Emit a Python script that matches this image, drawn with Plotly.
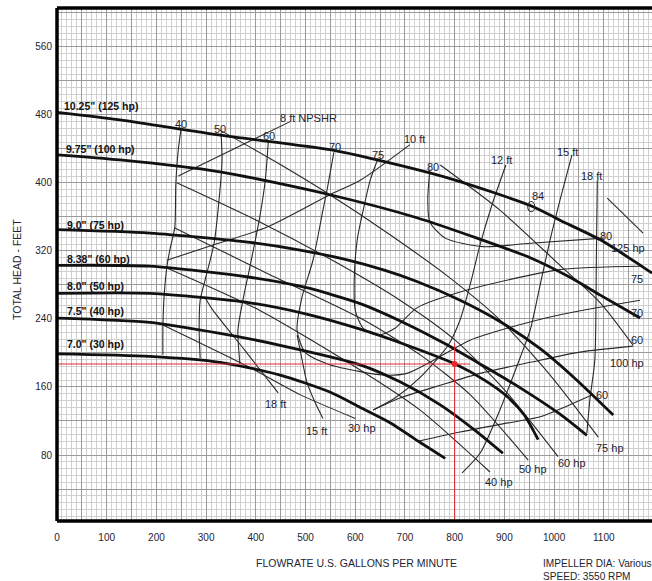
import plotly.graph_objects as go

# ---------------- data (flow in US gpm, head in feet) ----------------
X_TICKS = [0, 100, 200, 300, 400, 500, 600, 700, 800, 900, 1000, 1100]
Y_TICKS = [80, 160, 240, 320, 400, 480, 560]

# impeller curves
imp_1025_q = [0, 127, 328, 549, 644, 791, 958, 1012, 1093, 1179, 1197]
imp_1025_h = [483, 474, 456, 439, 427, 405, 372, 356, 333, 301, 294]
imp_975_q = [0, 127, 328, 549, 724, 845, 952, 1032, 1093, 1173]
imp_975_h = [433, 427, 413, 386, 359, 335, 312, 289, 268, 241]
imp_90_q = [0, 187, 388, 489, 580, 660, 724, 811, 891, 972, 1042, 1119]
imp_90_h = [345, 341, 330, 321, 310, 297, 284, 262, 237, 205, 170, 127]
imp_838_q = [0, 187, 388, 500, 610, 700, 780, 860, 932, 1012, 1066]
imp_838_h = [303, 302, 289, 277, 258, 235, 211, 184, 159, 128, 103]
imp_80_q = [0, 187, 388, 500, 610, 700, 801, 860, 905, 940, 968]
imp_80_h = [270, 270, 259, 246, 228, 210, 187, 168, 149, 127, 98]
imp_75_q = [0, 187, 328, 449, 610, 690, 771, 841, 897]
imp_75_h = [241, 236, 223, 209, 186, 166, 139, 109, 82]
imp_70_q = [0, 187, 328, 449, 549, 610, 670, 730, 781]
imp_70_h = [199, 196, 189, 174, 154, 136, 118, 95, 76]
imp_labels = ['10.25" (125 hp)', '9.75" (100 hp)', '9.0" (75 hp)', '8.38" (60 hp)',
              '8.0" (50 hp)', '7.5" (40 hp)', '7.0" (30 hp)']
imp_label_q = [10, 14, 16, 16, 16, 16, 16]
imp_label_h = [490, 440, 350, 310, 279, 249, 211]

# efficiency contours (%)
eff40_q = [250, 244, 239, 237, 227, 221, 215, 213, 213]
eff40_h = [465, 439, 398, 348, 321, 301, 262, 227, 198]
eff50_q = [330, 332, 326, 316, 298, 288, 286, 288]
eff50_h = [459, 427, 380, 329, 286, 262, 227, 194]
eff60_q = [425, 419, 408, 388, 374, 364, 368]
eff60_h = [448, 403, 360, 301, 262, 227, 187]
eff70_q = [557, 545, 535, 515, 493, 483, 499, 549, 610, 656, 704, 750, 831, 905, 1012, 1173]
eff70_h = [436, 397, 368, 309, 266, 227, 201, 186, 178, 174, 176, 189, 215, 229, 245, 262]
eff75_q = [646, 630, 616, 604, 598, 600, 616, 646, 680, 724, 825, 1012, 1173]
eff75_h = [429, 403, 368, 333, 286, 250, 229, 221, 229, 253, 274, 298, 302]
eff80_q = [750, 746, 750, 781, 857, 952, 1099]
eff80_h = [415, 380, 354, 335, 325, 329, 335]
eff60a_q = [636, 690, 771, 851, 952, 1052, 1159]
eff60a_h = [133, 147, 162, 176, 189, 201, 208]
eff60b_q = [726, 811, 891, 972, 1032, 1078]
eff60b_h = [96, 107, 116, 125, 139, 151]
eff84_center = (954, 372)

# NPSHR lines (ft)
npsh8_q = [244, 469]
npsh8_h = [408, 472]
npsh10_q = [221, 314, 423, 549, 610, 710]
npsh10_h = [309, 327, 348, 386, 403, 445]
npsh12_q = [903, 875, 851, 831, 811, 787, 730, 680, 636]
npsh12_h = [421, 374, 327, 280, 239, 209, 171, 147, 133]
npsh15_q = [1036, 1012, 992, 972, 952, 932, 891, 851, 815]
npsh15_h = [433, 380, 333, 280, 227, 195, 133, 82, 59]
npsh18_q = [1087, 1085, 1082, 1072, 1066]
npsh18_h = [403, 309, 192, 145, 106]
npsh15low_q = [483, 493, 503, 519, 535]
npsh15low_h = [221, 192, 165, 142, 123]
npsh18low_q = [298, 314, 378, 445]
npsh18low_h = [265, 250, 203, 153]

# horsepower lines
hp30_q = [213, 388, 489, 600]
hp30_h = [233, 183, 151, 123]
hp40_q = [221, 408, 610, 730, 871]
hp40_h = [300, 250, 180, 133, 60]
hp50_q = [237, 418, 610, 730, 831, 948]
hp50_h = [347, 295, 241, 198, 151, 74]
hp60_q = [241, 408, 563, 690, 801, 901, 1008]
hp60_h = [400, 354, 306, 262, 215, 156, 78]
hp75_q = [328, 439, 549, 670, 791, 891, 992, 1089]
hp75_h = [462, 425, 386, 339, 288, 239, 174, 101]
hp100_q = [771, 891, 1012, 1093, 1159]
hp100_h = [421, 368, 303, 259, 209]
hp125_q = [1107, 1179]
hp125_h = [382, 341]

# text labels on the chart
note_text = ["40", "50", "60", "70", "75", "80", "84",
             "80", "125 hp", "75", "70", "60", "100 hp", "60",
             "75 hp", "60 hp", "50 hp", "40 hp", "30 hp", "15 ft", "18 ft",
             "8 ft NPSHR", "10 ft", "12 ft", "15 ft", "18 ft"]
note_q = [249, 328, 427, 559, 646, 756, 968,
          1105, 1149, 1167, 1167, 1167, 1147, 1097,
          1113, 1036, 958, 889, 614, 523, 439,
          505, 720, 895, 1028, 1076]
note_h = [469, 463, 455, 442, 433, 419, 385,
          338, 323, 287, 247, 215, 188, 151,
          88, 71, 64, 48, 112, 108, 140,
          476, 452, 427, 436, 408]

# operating point
op_q = 800
op_h = 187
op_hline_q = [0, 831]
op_vline_h = [0, 212]

# ---------------- figure ----------------
FONT = "Liberation Sans Narrow, Arial Narrow, Liberation Sans, Arial, sans-serif"
TXT = "#1d2433"
fig = go.Figure()

def add_line(q, h, width, color="#1a1a1a", shape="spline"):
    fig.add_trace(go.Scatter(x=q, y=h, mode="lines", hoverinfo="skip",
                             line=dict(color=color, width=width, shape=shape, smoothing=0.7)))

for q, h in [(eff40_q, eff40_h), (eff50_q, eff50_h), (eff60_q, eff60_h), (eff70_q, eff70_h),
             (eff75_q, eff75_h), (eff80_q, eff80_h), (eff60a_q, eff60a_h), (eff60b_q, eff60b_h),
             (npsh8_q, npsh8_h), (npsh10_q, npsh10_h), (npsh12_q, npsh12_h), (npsh15_q, npsh15_h),
             (npsh18_q, npsh18_h), (npsh15low_q, npsh15low_h), (npsh18low_q, npsh18low_h),
             (hp30_q, hp30_h), (hp40_q, hp40_h), (hp50_q, hp50_h), (hp60_q, hp60_h),
             (hp75_q, hp75_h), (hp100_q, hp100_h), (hp125_q, hp125_h)]:
    add_line(q, h, 1.1, "#2a2a2a")

for q, h in [(imp_1025_q, imp_1025_h), (imp_975_q, imp_975_h), (imp_90_q, imp_90_h),
             (imp_838_q, imp_838_h), (imp_80_q, imp_80_h), (imp_75_q, imp_75_h), (imp_70_q, imp_70_h)]:
    add_line(q, h, 2.8, "#111111")

# operating point (red)
fig.add_trace(go.Scatter(x=op_hline_q, y=[op_h, op_h], mode="lines", hoverinfo="skip",
                         line=dict(color="#e8262e", width=1)))
fig.add_trace(go.Scatter(x=[op_q, op_q], y=op_vline_h, mode="lines", hoverinfo="skip",
                         line=dict(color="#e8262e", width=1)))
fig.add_trace(go.Scatter(x=[op_q], y=[op_h], mode="markers", hoverinfo="skip",
                         marker=dict(color="#e8262e", size=6)))

# plot area in page pixels: x 57..652, y 8..521
PL, PT, PW, PH = 57, 8, 595, 513

def px_x(x):
    return (x - PL) / PW

def px_y(y):
    return (PT + PH - y) / PH

annotations = []
for t, q, h in zip(imp_labels, imp_label_q, imp_label_h):
    annotations.append(dict(x=q, y=h, xref="x", yref="y", text="<b>%s</b>" % t, showarrow=False,
                            xanchor="left", yanchor="middle",
                            font=dict(family=FONT, size=10.5, color="#111")))
for t, q, h in zip(note_text, note_q, note_h):
    annotations.append(dict(x=q, y=h, xref="x", yref="y", text=t, showarrow=False,
                            xanchor="center", yanchor="middle",
                            font=dict(family=FONT, size=11, color=TXT)))
annotations += [
    dict(x=px_x(17), y=px_y(270), xref="paper", yref="paper", text="TOTAL HEAD - FEET",
         textangle=-90, showarrow=False, xanchor="center", yanchor="middle",
         font=dict(family=FONT, size=10.5, color=TXT)),
    dict(x=px_x(356), y=px_y(563), xref="paper", yref="paper", text="FLOWRATE U.S. GALLONS PER MINUTE",
         showarrow=False, xanchor="center", yanchor="middle",
         font=dict(family=FONT, size=10.5, color=TXT)),
    dict(x=px_x(541), y=px_y(563), xref="paper", yref="paper", text="IMPELLER DIA: Various",
         showarrow=False, xanchor="left", yanchor="middle",
         font=dict(family=FONT, size=10.1, color=TXT)),
    dict(x=px_x(541), y=px_y(576), xref="paper", yref="paper", text="SPEED: 3550 RPM",
         showarrow=False, xanchor="left", yanchor="middle",
         font=dict(family=FONT, size=10.1, color=TXT)),
]

shapes = [
    dict(type="circle", xref="x", yref="y", x0=eff84_center[0] - 7, x1=eff84_center[0] + 7,
         y0=eff84_center[1] - 6, y1=eff84_center[1] + 6, line=dict(color="#2a2a2a", width=1.1)),
    dict(type="line", xref="paper", yref="paper", x0=0, x1=0, y0=0, y1=1,
         line=dict(color="black", width=3.5), layer="above"),
    dict(type="line", xref="paper", yref="paper", x0=0, x1=1, y0=1, y1=1,
         line=dict(color="black", width=3.5), layer="above"),
    dict(type="line", xref="paper", yref="paper", x0=0, x1=1, y0=0, y1=0,
         line=dict(color="black", width=3.5), layer="above"),
]

x_grid = list(range(0, 1201, 50))
x_text = [str(v) if v in X_TICKS else "" for v in x_grid]
y_grid = list(range(0, 641, 40))
y_text = [str(v) if v in Y_TICKS else "" for v in y_grid]

fig.update_layout(
    width=652, height=581, autosize=False,
    margin=dict(l=PL, r=0, t=PT, b=581 - PT - PH, pad=0),
    paper_bgcolor="white", plot_bgcolor="white",
    showlegend=False,
    annotations=annotations, shapes=shapes,
    xaxis=dict(range=[0, 1197], tickmode="array", tickvals=x_grid, ticktext=x_text,
               showgrid=True, gridcolor="#9a9a9a", gridwidth=1, zeroline=False,
               ticks="", ticklabelstandoff=9, tickfont=dict(family=FONT, size=10, color=TXT),
               minor=dict(tickmode="linear", tick0=0, dtick=10, showgrid=True,
                          gridcolor="#d0d0d0", gridwidth=1)),
    yaxis=dict(range=[2.4, 605.6], tickmode="array", tickvals=y_grid, ticktext=y_text,
               showgrid=True, gridcolor="#9a9a9a", gridwidth=1, zeroline=False,
               ticks="", ticklabelstandoff=4, tickfont=dict(family=FONT, size=10, color=TXT),
               minor=dict(tickmode="linear", tick0=0, dtick=8, showgrid=True,
                          gridcolor="#d0d0d0", gridwidth=1)),
)

fig.write_html("out.html", config={"displayModeBar": False},
               post_script="document.body.style.margin='0';document.body.style.overflow='hidden';")
